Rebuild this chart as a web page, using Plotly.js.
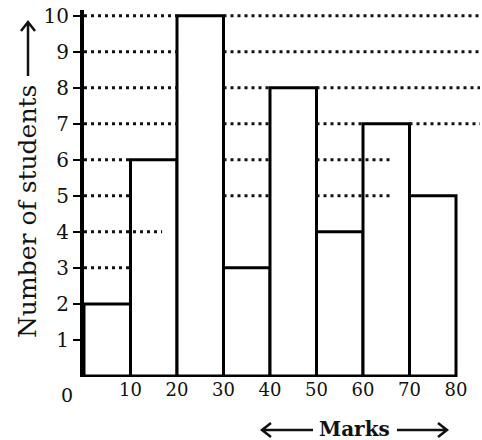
<!DOCTYPE html>
<html><head><meta charset="utf-8">
<script src="https://cdn.plot.ly/plotly-3.0.1.min.js"></script>
<style>html,body{margin:0;padding:0;background:#fff}#chart{width:482px;height:440px}</style>
</head><body><div id="chart"></div>
<script>
// class intervals (marks) and frequencies
const classStart = [0, 10, 20, 30, 40, 50, 60, 70];
const classEnd   = [10, 20, 30, 40, 50, 60, 70, 80];
const students   = [2, 6, 10, 3, 8, 4, 7, 5];
const xTickVals  = [10, 20, 30, 40, 50, 60, 70, 80];
const xTickText  = ['10', '20', '30', '40', '50', '60', '70', '80'];
const yTickVals  = [1, 2, 3, 4, 5, 6, 7, 8, 9, 10];
const yTickText  = ['1', '2', '3', '4', '5', '6', '7', '8', '9', '10'];
// dotted reading guides: level, from mark, to mark
const guideLevel = [10, 10, 9, 9, 8, 8, 8, 7, 7, 7, 7, 6, 6, 6, 5, 5, 5, 4, 3];
const guideFrom  = [0, 30, 0, 30, 0, 30, 50, 0, 30, 50, 70, 0, 30, 50, 0, 30, 50, 0, 0];
const guideTo    = [20, 85.2, 20, 85.2, 20, 40, 85.2, 20, 40, 60, 85.2, 10, 40, 66.5, 10, 40, 66.5, 16.8, 10];

const centers = classStart.map((s, i) => (s + classEnd[i]) / 2);
const widths  = classStart.map((s, i) => classEnd[i] - s);

const gx = [], gy = [];
guideLevel.forEach((lv, i) => { gx.push(guideFrom[i], guideTo[i], null); gy.push(lv, lv, null); });

const serif = 'DejaVu Serif, serif';
const W = 482, H = 440, ML = 84, MR = 2, MT = 10, MB = 63;
const PW = W - ML - MR, PH = H - MT - MB;
const px = v => (v - ML) / PW;          // pixel -> paper x
const py = v => (H - MB - v) / PH;      // pixel -> paper y

function hArrow(x0, x1, y) { // arrow head at x1
  const d = x1 > x0 ? -1 : 1;
  return `M ${px(x0)} ${py(y)} L ${px(x1)} ${py(y)} M ${px(x1 + d * 9)} ${py(y - 7)} L ${px(x1)} ${py(y)} L ${px(x1 + d * 9)} ${py(y + 7)}`;
}
function vArrowUp(x, y0, y1) { // head at y1 (top)
  return `M ${px(x)} ${py(y0)} L ${px(x)} ${py(y1)} M ${px(x - 7)} ${py(y1 + 9)} L ${px(x)} ${py(y1)} L ${px(x + 7)} ${py(y1 + 9)}`;
}

const data = [
  { type: 'bar', x: centers, y: students, width: widths,
    marker: { color: '#ffffff', line: { color: '#000', width: 3 } },
    hoverinfo: 'x+y', showlegend: false },
  { type: 'scatter', mode: 'lines', x: gx, y: gy,
    line: { color: '#111', width: 3, dash: '3px,4px' },
    hoverinfo: 'skip', showlegend: false, connectgaps: false }
];

const arrowLine = { color: '#111', width: 2.5 };
const layout = {
  width: W, height: H,
  margin: { l: ML, r: MR, t: MT, b: MB },
  paper_bgcolor: '#fff', plot_bgcolor: '#fff',
  bargap: 0,
  xaxis: { range: [0, 85.16], tickvals: xTickVals, ticktext: xTickText,
    showgrid: false, zeroline: false, showline: false, ticks: '',
    tickfont: { family: serif, size: 18, color: '#111' } },
  yaxis: { range: [-0.03, 10.16], tickvals: yTickVals, ticktext: yTickText,
    showgrid: false, zeroline: false, showline: true, linecolor: '#000', linewidth: 4,
    ticks: 'outside', ticklen: 7, tickwidth: 2, tickcolor: '#000',
    tickfont: { family: serif, size: 20, color: '#111' } },
  shapes: [
    { type: 'path', xref: 'paper', yref: 'paper', path: vArrowUp(28, 76, 22), line: arrowLine },
    { type: 'path', xref: 'paper', yref: 'paper', path: hArrow(313, 262, 430), line: arrowLine },
    { type: 'path', xref: 'paper', yref: 'paper', path: hArrow(397, 447, 430), line: arrowLine }
  ],
  annotations: [
    { xref: 'paper', yref: 'paper', x: px(27), y: py(212), xanchor: 'center', yanchor: 'middle',
      textangle: -90, showarrow: false, text: 'Number of students',
      font: { family: serif, size: 25, color: '#111' } },
    { xref: 'paper', yref: 'paper', x: px(354), y: py(429), xanchor: 'center', yanchor: 'middle',
      showarrow: false, text: '<b>Marks</b>',
      font: { family: serif, size: 20, color: '#111' } },
    { xref: 'x', yref: 'y', x: 0, y: 0, xanchor: 'center', yanchor: 'top',
      xshift: -17, yshift: -6, showarrow: false, text: '0',
      font: { family: serif, size: 19, color: '#111' } }
  ]
};

Plotly.newPlot('chart', data, layout, { displayModeBar: false, staticPlot: true });
</script>
</body></html>
